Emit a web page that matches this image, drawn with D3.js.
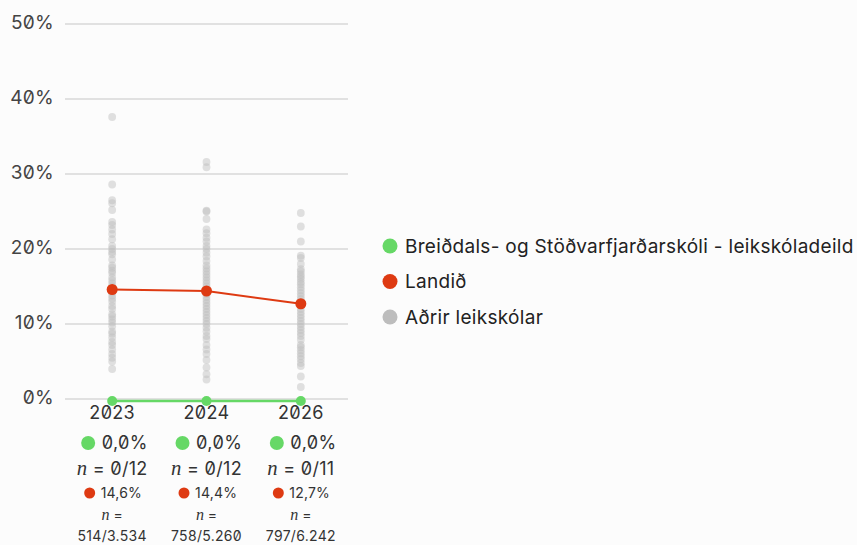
<!DOCTYPE html>
<html>
<head>
<meta charset="utf-8">
<script src="https://cdn.jsdelivr.net/npm/d3@7"></script>
<style>
  body { margin: 0; background: #fcfcfc; }
  svg { font-family: Inter, "Noto Sans", sans-serif; font-feature-settings: "zero" 1; }
</style>
</head>
<body>
<svg width="857" height="545"></svg>
<script>
// years and values
const years = ["2023", "2024", "2026"]
const schoolPct = [0, 0, 0]
const schoolN = ["0/12", "0/12", "0/11"]
const landPct = [14.6, 14.4, 12.7]
const landN = ["514/3.534", "758/5.260", "797/6.242"]
const yTicks = [0, 10, 20, 30, 40, 50]

// other preschools (grey dots)
const others2023 = [37.6, 28.6, 26.5, 26.1, 25.2, 23.6, 23.2, 22.6, 22.0, 21.3, 20.4, 20.0, 19.6, 19.3, 18.6, 17.8, 17.5, 17.1, 16.8, 16.2, 15.8, 15.4, 15.0, 14.6, 14.2, 13.8, 13.4, 13.0, 12.4, 12.0, 11.3, 11.0, 10.6, 10.2, 9.7, 9.0, 8.7, 8.2, 7.6, 7.2, 6.6, 6.0, 5.5, 5.0, 4.0]
const others2024 = [31.6, 30.9, 25.1, 25.0, 24.0, 22.6, 22.1, 21.5, 21.0, 20.4, 20.0, 19.5, 19.0, 18.4, 17.8, 17.4, 17.0, 16.6, 16.2, 15.8, 15.4, 15.0, 14.6, 14.0, 13.6, 13.2, 12.8, 12.4, 12.0, 11.6, 11.2, 10.8, 10.4, 10.0, 9.5, 9.0, 8.4, 8.0, 7.2, 6.6, 6.0, 5.2, 4.2, 3.3, 2.6]
const others2026 = [24.8, 23.0, 21.0, 19.1, 18.8, 18.0, 17.3, 17.0, 16.6, 16.3, 16.0, 15.6, 15.3, 14.9, 14.5, 14.1, 13.7, 13.3, 12.9, 12.4, 12.0, 11.6, 11.2, 10.8, 10.4, 10.0, 9.6, 9.2, 8.8, 8.4, 7.9, 7.2, 6.9, 6.5, 6.1, 5.7, 5.3, 4.8, 4.4, 3.0, 1.6]
const others = [others2023, others2024, others2026]

const legendLabels = ["Breiðdals- og Stöðvarfjarðarskóli - leikskóladeild", "Landið", "Aðrir leikskólar"]

const green = "#66d866", red = "#de3a12", grey = "#bdbdbd"

const svg = d3.select("svg")
const margin = {top: 24, left: 65, right: 348, bottom: 399}

const x = d3.scalePoint().domain(years).range([margin.left, margin.right]).padding(0.5)
const y = d3.scaleLinear().domain([0, 50]).range([margin.bottom, margin.top])

// grid + y labels
const yAxis = svg.append("g")
yAxis.selectAll("line").data(yTicks).join("line")
  .attr("x1", margin.left).attr("x2", margin.right)
  .attr("y1", d => y(d)).attr("y2", d => y(d))
  .attr("stroke", "#d9d9d9").attr("stroke-width", 1.3)
yAxis.selectAll("text").data(yTicks).join("text")
  .attr("x", 54).attr("y", d => y(d) - 2)
  .attr("text-anchor", "end").attr("dy", "0.35em")
  .attr("font-size", 19).attr("letter-spacing", 0.3).attr("fill", "#444")
  .text(d => d + "%")

// grey dots
svg.append("g")
  .selectAll("g").data(others).join("g")
  .selectAll("circle").data((d, i) => d.map(v => ({year: years[i], v})))
  .join("circle")
  .attr("cx", d => x(d.year)).attr("cy", d => y(d.v))
  .attr("r", 3.9).attr("fill", grey).attr("opacity", 0.45)

// landið line
const line = d3.line().x((d, i) => x(years[i])).y(d => y(d))
svg.append("path").datum(landPct).attr("d", line)
  .attr("fill", "none").attr("stroke", red).attr("stroke-width", 2)
svg.append("g").selectAll("circle").data(landPct).join("circle")
  .attr("cx", (d, i) => x(years[i])).attr("cy", d => y(d))
  .attr("r", 5.5).attr("fill", red)

// school line
svg.append("path").datum(schoolPct).attr("d", line)
  .attr("transform", "translate(0,2)")
  .attr("fill", "none").attr("stroke", green).attr("stroke-width", 2.5)
svg.append("g").selectAll("circle").data(schoolPct).join("circle")
  .attr("cx", (d, i) => x(years[i])).attr("cy", d => y(d) + 2)
  .attr("r", 5).attr("fill", green)

// x labels with values underneath
const fmt = v => v.toFixed(1).replace(".", ",") + "%"
const nSpan = `<tspan font-style="italic" font-family="'Liberation Serif', serif" font-size="1.15em">n</tspan>`
const cols = svg.append("g").selectAll("g").data(years).join("g")
  .attr("transform", d => `translate(${x(d)},0)`)
cols.append("text").attr("y", 413).attr("dy", "0.35em")
  .attr("text-anchor", "middle").attr("font-size", 18).attr("letter-spacing", 0.3).attr("fill", "#333")
  .text(d => d)
cols.append("circle").attr("cx", -24).attr("cy", 443).attr("r", 7).attr("fill", green)
cols.append("text").attr("x", -10.5).attr("y", 443).attr("dy", "0.35em")
  .attr("font-size", 18).attr("letter-spacing", 0.4).attr("fill", "#333")
  .text((d, i) => fmt(schoolPct[i]))
cols.append("text").attr("y", 469).attr("dy", "0.35em")
  .attr("text-anchor", "middle").attr("font-size", 18).attr("letter-spacing", 0.3).attr("fill", "#333")
  .html((d, i) => `${nSpan} = ${schoolN[i]}`)
cols.append("circle").attr("cx", -22.5).attr("cy", 493).attr("r", 5.5).attr("fill", red)
cols.append("text").attr("x", -11.5).attr("y", 493).attr("dy", "0.35em")
  .attr("font-size", 14).attr("letter-spacing", 0.2).attr("fill", "#333")
  .text((d, i) => fmt(landPct[i]))
cols.append("text").attr("y", 515).attr("dy", "0.35em")
  .attr("text-anchor", "middle").attr("font-size", 14).attr("fill", "#333")
  .html(`${nSpan} =`)
cols.append("text").attr("y", 536).attr("dy", "0.35em")
  .attr("text-anchor", "middle").attr("font-size", 14).attr("letter-spacing", 0.3).attr("fill", "#333")
  .text((d, i) => landN[i])

// legend
const legend = svg.append("g").selectAll("g").data(legendLabels).join("g")
  .attr("transform", (d, i) => `translate(390,${246 + i * 35.5})`)
legend.append("circle").attr("r", 7.5).attr("fill", (d, i) => [green, red, grey][i])
legend.append("text").attr("x", 15).attr("dy", "0.35em")
  .attr("font-size", 19).attr("letter-spacing", 0.3).attr("fill", "#222")
  .text(d => d)
</script>
</body>
</html>
